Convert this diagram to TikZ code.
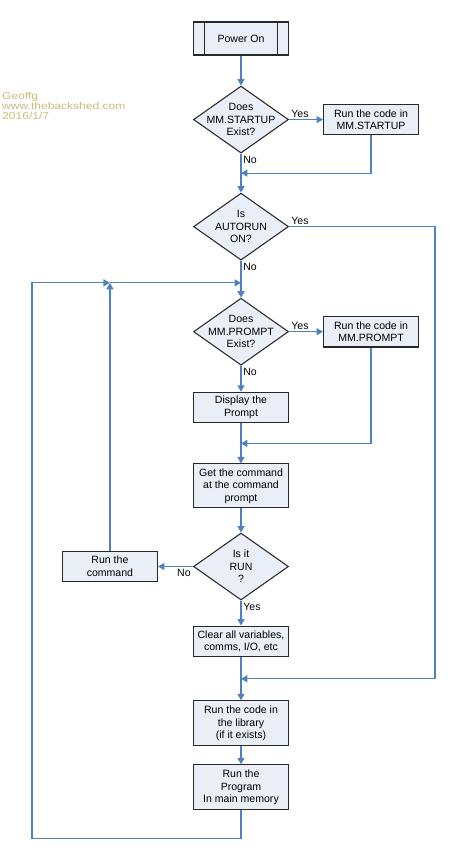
\documentclass[tikz,border=0pt]{standalone}
\usepackage{fontspec}
\setmainfont{Liberation Sans}
\newfontfamily\creditfont[FakeStretch=1.21]{Liberation Sans}
\usetikzlibrary{arrows.meta, positioning, shapes.geometric, calc}
\definecolor{flowblue}{RGB}{79,129,189}
\definecolor{boxfill}{RGB}{233,238,247}
\definecolor{boxline}{RGB}{40,40,40}
\definecolor{credittext}{RGB}{198,188,122}

\begin{document}
\begin{tikzpicture}[
    x=0.03cm, y=-0.03cm, >={Triangle[length=5.5pt,width=6pt]},
    font=\fontsize{9}{10.8}\selectfont,
    stepbox/.style={draw=boxline, line width=0.9pt, fill=boxfill,
                    minimum width=2.85cm, minimum height=0.92cm,
                    align=center, inner sep=1pt},
    decision/.style={draw=boxline, line width=0.9pt, fill=boxfill, diamond,
                     minimum width=2.85cm, minimum height=2.01cm, inner sep=0pt},
    flow/.style={->, draw=flowblue, line width=1pt},
    yesno/.style={inner sep=1.5pt}
  ]
  \useasboundingbox (0,0) rectangle (469,854);

  \node[font=\creditfont\fontsize{8.5}{8.5}\selectfont, text=credittext,
        align=left, anchor=north west, inner sep=0pt] (credit) at (2,92)
    {Geoffg\\www.thebackshed.com\\2016/1/7};

  % main column
  \node[stepbox, minimum height=0.99cm] (power) at (241,38.5) {Power On};
  \draw[boxline, line width=0.9pt] ([xshift=0.36cm]power.north west)
    -- ([xshift=0.36cm]power.south west);
  \draw[boxline, line width=0.9pt] ([xshift=-0.36cm]power.north east)
    -- ([xshift=-0.36cm]power.south east);
  \node[decision, below=0.9cm of power,
        label={[align=center]center:{Does\\MM.STARTUP\\Exist?}}] (startq) {};
  \node[stepbox, right=1.02cm of startq] (startrun) {Run the code in\\MM.STARTUP};
  \node[decision, below=1.17cm of startq,
        label={[align=center]center:{Is\\AUTORUN\\ON?}}] (autoq) {};
  \node[decision, below=1.11cm of autoq,
        label={[align=center]center:{Does\\MM.PROMPT\\Exist?}}] (promptq) {};
  \node[stepbox, right=1.02cm of promptq] (promptrun) {Run the code in\\MM.PROMPT};
  \node[stepbox, below=0.78cm of promptq] (showprompt) {Display the\\Prompt};
  \node[stepbox, minimum height=1.32cm, below=1.2cm of showprompt] (getcmd)
    {Get the command\\at the command\\prompt};
  \node[decision, below=0.72cm of getcmd,
        label={[align=center]center:{Is it\\RUN\\?}}] (runq) {};
  \node[stepbox, left=1.05cm of runq] (runcmd) {Run the\\command};
  \node[stepbox, below=0.75cm of runq] (clearall) {Clear all variables,\\comms, I/O, etc};
  \node[stepbox, minimum height=1.35cm, below=1.29cm of clearall] (runlib)
    {Run the code in\\the library\\(if it exists)};
  \node[stepbox, minimum height=1.35cm, below=0.54cm of runlib] (runprog)
    {Run the\\Program\\In main memory};

  % join points
  \coordinate (joinA) at ($(startq.south)!0.5!(autoq.north)$);
  \coordinate (joinB) at ($(showprompt.south)!0.5!(getcmd.north)$);
  \coordinate (joinC) at ($(clearall.south)!0.5!(runlib.north)$);
  \coordinate (joinD) at ($(autoq.south)!0.6!(promptq.north)$);
  \coordinate (joinE) at (runcmd.north |- joinD);
  \coordinate[right=4.38cm of autoq.east] (autobend);
  \coordinate[below left=0.84cm and 6.27cm of runprog.south] (loopcorner);

  % connectors
  \draw[flow] (power) -- (startq);
  \draw[flow] (startq.east) -- node[yesno, pos=0, anchor=south west] {Yes} (startrun.west);
  \draw[flow] (startq.south) -- node[yesno, pos=0, anchor=north west] {No} (autoq.north);
  \draw[flow] (startrun.south) |- (joinA);
  \draw[flow] (autoq.east) -- node[yesno, pos=0, anchor=south west] {Yes} (autobend) |- (joinC);
  \draw[flow] (autoq.south) -- node[yesno, pos=0, anchor=north west] {No} (promptq.north);
  \draw[flow] (promptq.east) -- node[yesno, pos=0, anchor=south west] {Yes} (promptrun.west);
  \draw[flow] (promptq.south) -- node[yesno, pos=0, anchor=north west] {No} (showprompt);
  \draw[flow] (promptrun.south) |- (joinB);
  \draw[flow] (showprompt) -- (getcmd);
  \draw[flow] (getcmd) -- (runq);
  \draw[flow] (runq.west) -- node[yesno, pos=0, anchor=north east] {No} (runcmd.east);
  \draw[flow] (runq.south) -- node[yesno, pos=0, anchor=north west] {Yes} (clearall);
  \draw[flow] (clearall) -- (runlib);
  \draw[flow] (runlib) -- (runprog);
  \draw[flow] (runprog.south) |- (loopcorner) |- (joinE);
  \draw[flow] (runcmd.north) -- (joinE);
  \draw[flow] (joinE) -- (joinD);
\end{tikzpicture}
\end{document}
